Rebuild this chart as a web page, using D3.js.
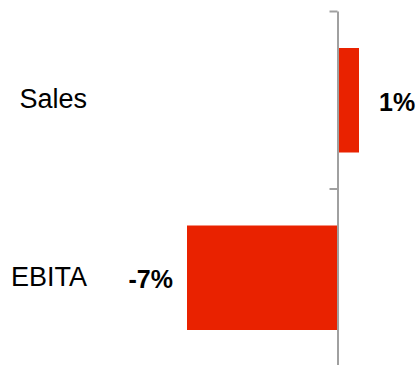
<!DOCTYPE html>
<html>
<head>
<meta charset="utf-8">
<script src="https://cdn.jsdelivr.net/npm/d3@7"></script>
<style>
  html, body { margin: 0; padding: 0; background: #fff; }
  svg { display: block; }
</style>
</head>
<body>
<svg id="chart" width="420" height="365"></svg>
<script>
// Year-on-year change, in percent
const categories = ["Sales", "EBITA"];
const values = [1, -7];
const valueLabels = ["1%", "-7%"];

const svg = d3.select("#chart");

const x = d3.scaleLinear().domain([-7, 1]).range([187, 359]);

const y = d3.scaleBand()
  .domain(categories)
  .range([11, 366])
  .paddingInner(0.4)
  .paddingOuter(0.2);

// category boundaries for the axis ticks
const edge = d3.scaleLinear().domain([0, categories.length]).range([11, 366]);

const rows = categories.map((c, i) => ({ c, v: values[i], label: valueLabels[i] }));

// bars
svg.append("g").selectAll("rect")
  .data(rows)
  .join("rect")
  .attr("x", d => Math.min(x(0), x(d.v)) + (d.v > 0 ? 1 : 0))
  .attr("y", d => y(d.c) + 1.5)
  .attr("width", d => Math.abs(x(d.v) - x(0)) - (d.v > 0 ? 1 : 0))
  .attr("height", y.bandwidth() - 2)
  .attr("fill", "#e92200");

// zero axis with ticks between categories
const axis = svg.append("g")
  .attr("transform", `translate(${x(0)},0)`)
  .call(d3.axisLeft(edge)
    .tickValues(d3.range(categories.length + 1))
    .tickSize(8)
    .tickSizeOuter(0)
    .tickFormat(""));
axis.selectAll("path, line").attr("stroke", "#a0a0a0").attr("stroke-width", 2);

// category labels
svg.append("g").selectAll("text")
  .data(rows)
  .join("text")
  .attr("x", 87)
  .attr("y", d => y(d.c) + y.bandwidth() / 2 + 8.5)
  .attr("text-anchor", "end")
  .attr("font-family", "Liberation Sans, Arial, sans-serif")
  .attr("font-size", 27)
  .attr("fill", "#000")
  .text(d => d.c);

// value labels
svg.append("g").selectAll("text")
  .data(rows)
  .join("text")
  .attr("x", d => d.v >= 0 ? x(d.v) + 20 : x(d.v) - 14)
  .attr("y", d => y(d.c) + y.bandwidth() / 2 + 11)
  .attr("text-anchor", d => d.v >= 0 ? "start" : "end")
  .attr("font-family", "Liberation Sans, Arial, sans-serif")
  .attr("font-weight", "bold")
  .attr("font-size", 25)
  .attr("fill", "#000")
  .text(d => d.label);
</script>
</body>
</html>
